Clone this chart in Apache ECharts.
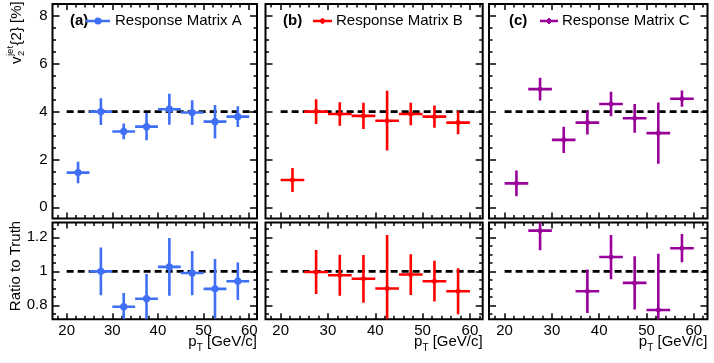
<!DOCTYPE html>
<html>
<head>
<meta charset="utf-8">
<script src="https://cdn.jsdelivr.net/npm/echarts@6/dist/echarts.min.js"></script>
<style>
  html, body { margin: 0; padding: 0; background: #fff; }
  #chart { width: 714px; height: 363px; }
</style>
</head>
<body>
<div id="chart"></div>
<script>
// jet pT bins (GeV/c)
const binCenters = [22.5, 27.5, 32.5, 37.5, 42.5, 47.5, 52.5, 57.5];
const binHalfWidth = 2.5;

// v2jet{2} in %, per response matrix
const v2A = [1.45, 4.0, 3.17, 3.37, 4.1, 3.96, 3.58, 3.79];
const v2ErrA = [0.45, 0.56, 0.33, 0.57, 0.65, 0.52, 0.7, 0.43];
const v2B = [1.14, 4.0, 3.9, 3.82, 3.62, 3.9, 3.79, 3.54];
const v2ErrB = [0.5, 0.52, 0.49, 0.55, 1.25, 0.47, 0.47, 0.49];
const v2C = [1.0, 4.94, 2.82, 3.54, 4.32, 3.72, 3.1, 4.54];
const v2ErrC = [0.54, 0.48, 0.55, 0.5, 0.51, 0.6, 1.28, 0.34];

// ratio to truth (points that fall outside the frame are not drawn)
const ratioA = [null, 1.0, 0.792, 0.839, 1.026, 0.99, 0.897, 0.942];
const ratioErrA = [null, 0.14, 0.08, 0.145, 0.17, 0.13, 0.175, 0.11];
const ratioB = [null, 0.996, 0.977, 0.956, 0.899, 0.981, 0.942, 0.883];
const ratioErrB = [null, 0.13, 0.12, 0.14, 0.315, 0.12, 0.12, 0.135];
const ratioC = [null, 1.239, null, 0.883, 1.084, 0.932, 0.773, 1.136];
const ratioErrC = [null, 0.115, null, 0.128, 0.13, 0.157, 0.33, 0.083];

const truthV2 = 4;
const truthRatio = 1;
const truthFrom = 20;

const v2Ticks = [0, 2, 4, 6, 8];
const ratioTicks = [0.8, 1, 1.2];
const ptTicks = [20, 30, 40, 50, 60];

const panelLabels = ['(a)', '(b)', '(c)'];
const seriesNames = ['Response Matrix A', 'Response Matrix B', 'Response Matrix C'];
const colors = ['#3f6ff4', '#ff0000', '#990099'];
const markers = ['circle', 'square', 'square'];

const FONT = '"Liberation Sans", Arial, Helvetica, sans-serif';
const FS = 15;

// pad geometry
const cols = [
  { left: 52.5, width: 204.5, xMin: 16.9, xMax: 61.7, leg: [17.5, 33.5, 57.5, 62.5] },
  { left: 265.5, width: 217.2, xMin: 16.8, xMax: 62.7, leg: [17.5, 47.5, 66.5, 70.5] },
  { left: 489, width: 218.5, xMin: 16.7, xMax: 62.9, leg: [20, 51, 69, 73] }
];
const rows = [
  { top: 4, height: 214.5, yMin: -0.47, yMax: 8.5, ticks: v2Ticks, minorStep: 0.5, truth: truthV2,
    vals: [v2A, v2B, v2C], errs: [v2ErrA, v2ErrB, v2ErrC] },
  { top: 222.5, height: 96.8, yMin: 0.718, yMax: 1.287, ticks: ratioTicks, minorStep: 0.05, truth: truthRatio,
    vals: [ratioA, ratioB, ratioC], errs: [ratioErrA, ratioErrB, ratioErrC] }
];

function steps(min, max, step) {
  const out = [];
  for (let k = Math.ceil(min / step - 1e-9); k * step <= max + 1e-9; k++) out.push(+(k * step).toFixed(4));
  return out;
}

function axis(gridIndex, position, min, max, ticks, len, labels) {
  return {
    type: 'value', gridIndex, position, min, max,
    splitLine: { show: false },
    axisLine: { show: false, onZero: false },
    axisTick: { show: true, inside: true, length: len, customValues: ticks,
      lineStyle: { color: '#000', width: 1.5 } },
    axisLabel: labels
      ? { show: true, customValues: ticks, color: '#000', fontSize: FS, fontFamily: FONT,
          margin: position === 'left' ? 5 : 4 }
      : { show: false }
  };
}

function errorBars(color, marker, yMin, yMax) {
  return function (params, api) {
    const x = api.value(0), y = api.value(1), ex = api.value(2), ey = api.value(3);
    const c = api.coord([x, y]);
    const l = api.coord([x - ex, y]);
    const r = api.coord([x + ex, y]);
    const t = api.coord([x, Math.min(y + ey, yMax)]);
    const b = api.coord([x, Math.max(y - ey, yMin)]);
    const style = { stroke: color, lineWidth: 2.6 };
    const children = [
      { type: 'line', shape: { x1: l[0], y1: c[1], x2: r[0], y2: c[1] }, style },
      { type: 'line', shape: { x1: c[0], y1: t[1], x2: c[0], y2: b[1] }, style }
    ];
    if (marker === 'circle') {
      children.push({ type: 'circle', shape: { cx: c[0], cy: c[1], r: 3.6 }, style: { fill: color } });
    } else {
      children.push({ type: 'rect', shape: { x: c[0] - 2, y: c[1] - 2, width: 4, height: 4 }, style: { fill: color } });
    }
    return { type: 'group', children };
  };
}

const measureCtx = document.createElement('canvas').getContext('2d');
function textWidth(text, size, weight) {
  measureCtx.font = (weight || 'normal') + ' ' + size + 'px ' + FONT;
  return measureCtx.measureText(text).width;
}

const option = { animation: false, grid: [], xAxis: [], yAxis: [], series: [], graphic: [] };

rows.forEach((row, ri) => {
  cols.forEach((col, ci) => {
    const g = option.grid.length;
    option.grid.push({
      left: col.left, top: row.top, width: col.width, height: row.height,
      show: true, borderColor: '#000', borderWidth: 2, backgroundColor: 'transparent',
      containLabel: false, outerBoundsMode: 'none'
    });
    const xi = option.xAxis.length, yi = option.yAxis.length;
    const xMinor = steps(col.xMin, col.xMax, 2);
    const yMinor = steps(row.yMin, row.yMax, row.minorStep);
    option.xAxis.push(
      axis(g, 'bottom', col.xMin, col.xMax, ptTicks, 6, ri === 1),
      axis(g, 'bottom', col.xMin, col.xMax, xMinor, 3.5, false),
      axis(g, 'top', col.xMin, col.xMax, ptTicks, 6, false),
      axis(g, 'top', col.xMin, col.xMax, xMinor, 3.5, false)
    );
    option.yAxis.push(
      axis(g, 'left', row.yMin, row.yMax, row.ticks, 7, ci === 0),
      axis(g, 'left', row.yMin, row.yMax, yMinor, 3.5, false),
      axis(g, 'right', row.yMin, row.yMax, row.ticks, 7, false),
      axis(g, 'right', row.yMin, row.yMax, yMinor, 3.5, false)
    );

    option.series.push({
      type: 'line', xAxisIndex: xi, yAxisIndex: yi, silent: true, z: 1,
      symbol: 'none',
      data: [[truthFrom, row.truth], [col.xMax, row.truth]],
      lineStyle: { color: '#000', width: 2.6, type: [7, 4] }
    });

    const vals = row.vals[ci], errs = row.errs[ci];
    const pts = [];
    binCenters.forEach((x, i) => {
      if (vals[i] !== null) pts.push([x, vals[i], binHalfWidth, errs[i]]);
    });
    option.series.push({
      type: 'custom', xAxisIndex: xi, yAxisIndex: yi, z: 3, clip: true,
      encode: { x: 0, y: 1 },
      renderItem: errorBars(colors[ci], markers[ci], row.yMin, row.yMax),
      data: pts
    });

    if (ri === 0) {
      // panel label + legend entry
      const ly = 21;
      const [labX, lineX1, lineX2, txtX] = col.leg.map(v => col.left + v);
      const mid = (lineX1 + lineX2) / 2;
      const legendIcon = [
        { type: 'line', shape: { x1: lineX1, y1: ly, x2: lineX2, y2: ly }, style: { stroke: colors[ci], lineWidth: 2.5 } }
      ];
      if (markers[ci] === 'circle') {
        legendIcon.push({ type: 'circle', shape: { cx: mid, cy: ly, r: 3.6 }, style: { fill: colors[ci] } });
      } else {
        legendIcon.push({ type: 'line', shape: { x1: mid, y1: ly - 3, x2: mid, y2: ly + 3 }, style: { stroke: colors[ci], lineWidth: 2 } });
        legendIcon.push({ type: 'rect', shape: { x: mid - 2, y: ly - 2, width: 4, height: 4 }, style: { fill: colors[ci] } });
      }
      option.graphic.push(
        { type: 'text', x: labX, y: ly, style: { text: panelLabels[ci], fontSize: FS, fontWeight: 'bold', fontFamily: FONT, fill: '#000', textAlign: 'left', verticalAlign: 'middle' } },
        ...legendIcon,
        { type: 'text', x: txtX, y: ly, style: { text: seriesNames[ci], fontSize: FS, fontFamily: FONT, fill: '#000', textAlign: 'left', verticalAlign: 'middle' } }
      );
    } else {
      // x-axis title, right aligned to the frame
      const right = col.left + col.width;
      const wP = textWidth('p', FS), wT = textWidth('T', 10), wRest = textWidth(' [GeV/c]', FS);
      const x0 = right - (wP + wT + wRest);
      const ty = 342;
      option.graphic.push(
        { type: 'text', x: x0, y: ty, style: { text: 'p', fontSize: FS, fontFamily: FONT, fill: '#000', verticalAlign: 'middle' } },
        { type: 'text', x: x0 + wP, y: ty + 6, style: { text: 'T', fontSize: 10, fontFamily: FONT, fill: '#000', verticalAlign: 'middle' } },
        { type: 'text', x: x0 + wP + wT, y: ty, style: { text: ' [GeV/c]', fontSize: FS, fontFamily: FONT, fill: '#000', verticalAlign: 'middle' } }
      );
    }
  });
});

// y-axis titles (rotated)
const wV = textWidth('v', FS);
option.graphic.push(
  {
    type: 'group', x: 16.5, y: 64, rotation: Math.PI / 2,
    children: [
      { type: 'text', x: 0, y: 0, style: { text: 'v', fontSize: FS, fontFamily: FONT, fill: '#000', verticalAlign: 'middle' } },
      { type: 'text', x: wV + 0.5, y: -6, style: { text: 'jet', fontSize: 9.5, fontFamily: FONT, fill: '#000', verticalAlign: 'middle' } },
      { type: 'text', x: wV + 0.5, y: 5, style: { text: '2', fontSize: 9.5, fontFamily: FONT, fill: '#000', verticalAlign: 'middle' } },
      { type: 'text', x: wV + 0.5 + textWidth('jet', 9.5) + 0.5, y: 0, style: { text: '{2} [%]', fontSize: FS, fontFamily: FONT, fill: '#000', verticalAlign: 'middle' } }
    ]
  },
  {
    type: 'text', x: 15.5, y: 266, rotation: Math.PI / 2,
    style: { text: 'Ratio to Truth', fontSize: FS, fontFamily: FONT, fill: '#000', textAlign: 'center', verticalAlign: 'middle' }
  }
);

const chart = echarts.init(document.getElementById('chart'), null, { renderer: 'canvas' });
chart.setOption(option);
</script>
</body>
</html>
